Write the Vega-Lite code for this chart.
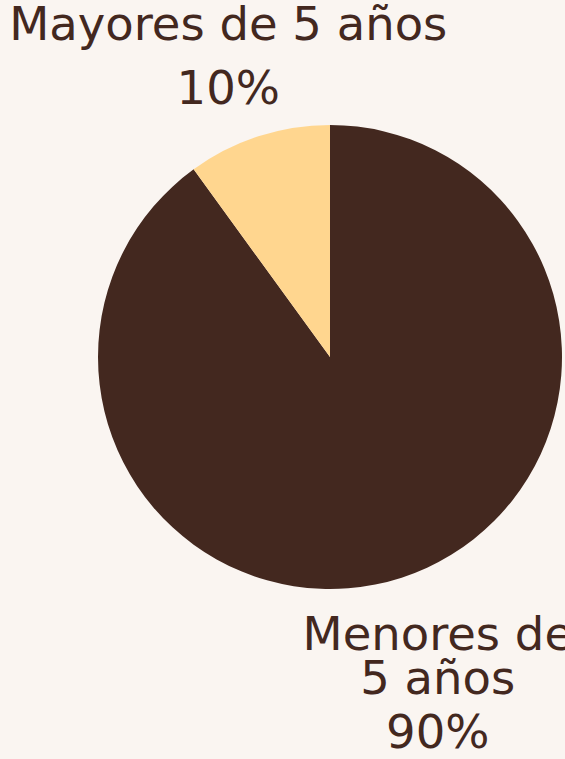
{
  "$schema": "https://vega.github.io/schema/vega-lite/v6.json",
  "width": 464,
  "height": 464,
  "autosize": {"type": "none"},
  "padding": {"left": 98, "top": 125, "right": 3, "bottom": 170},
  "background": "#FAF5F1",
  "view": {"stroke": null},
  "data": {
    "values": [
      {"categoria": "Menores de 5 años", "etiqueta": "Menores de\n5 años", "valor": 90, "porcentaje": "90%", "orden": 1},
      {"categoria": "Mayores de 5 años", "etiqueta": "Mayores de 5 años", "valor": 10, "porcentaje": "10%", "orden": 2}
    ]
  },
  "encoding": {
    "theta": {"field": "valor", "type": "quantitative", "stack": true},
    "order": {"field": "orden", "type": "quantitative"}
  },
  "layer": [
    {
      "mark": {"type": "arc", "outerRadius": 232},
      "encoding": {
        "color": {
          "field": "categoria",
          "type": "nominal",
          "scale": {"domain": ["Menores de 5 años", "Mayores de 5 años"], "range": ["#43281F", "#FFD68F"]},
          "legend": null
        }
      }
    },
    {
      "mark": {"type": "text", "radius": 339, "dx": 3, "dy": {"expr": "datum.orden == 1 ? -29 : 5"}, "font": "DejaVu Sans", "fontSize": 46.5, "lineHeight": 44, "lineBreak": "\n", "color": "#43281F", "align": "center", "baseline": "alphabetic"},
      "encoding": {"text": {"field": "etiqueta", "type": "nominal"}}
    },
    {
      "mark": {"type": "text", "radius": 339, "dx": 3, "dy": 55, "font": "DejaVu Sans", "fontSize": 46.5, "color": "#43281F", "align": "center", "baseline": "middle"},
      "encoding": {"text": {"field": "porcentaje", "type": "nominal"}}
    }
  ]
}
